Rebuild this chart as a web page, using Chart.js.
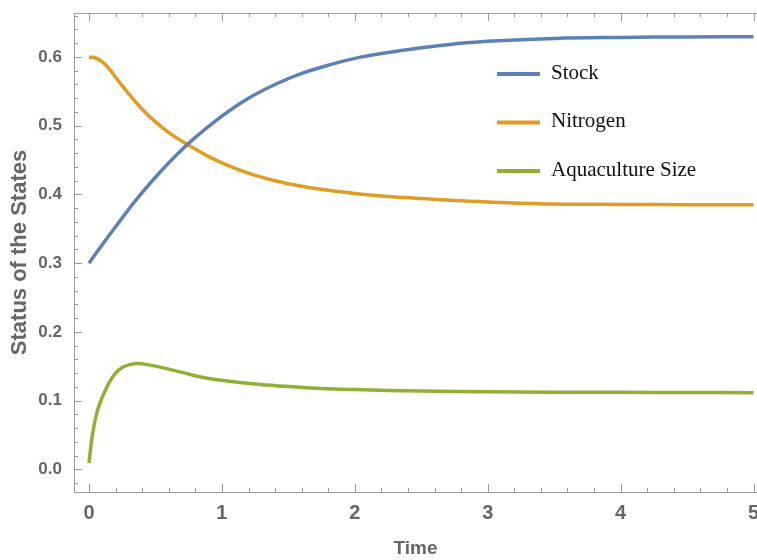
<!DOCTYPE html>
<html lang="en">
<head>
    <meta charset="UTF-8">
    <title>Status of the States</title>
    <script src="https://cdn.jsdelivr.net/npm/chart.js"></script>
    <style>
        html, body { margin: 0; padding: 0; background: #fff; }
        #wrap { width: 757px; height: 560px; }
    </style>
</head>
<body>
    <div id="wrap"><canvas id="statesChart"></canvas></div>
    <script>
        // values
        const stockTime   = [0, 0.1, 0.2, 0.35, 0.5, 0.65, 0.8, 1, 1.2, 1.4, 1.6, 1.8, 2, 2.25, 2.5, 2.75, 3, 3.5, 4, 4.5, 5];
        const stockValues = [0.300, 0.327, 0.353, 0.391, 0.425, 0.456, 0.483, 0.514, 0.540, 0.560, 0.576, 0.588, 0.598, 0.6065, 0.6135, 0.619, 0.623, 0.627, 0.6285, 0.6292, 0.6295];

        const nitrogenTime   = [0, 0.05, 0.1, 0.15, 0.2, 0.3, 0.4, 0.5, 0.6, 0.7, 0.8, 0.9, 1, 1.2, 1.4, 1.6, 1.8, 2, 2.25, 2.5, 2.75, 3, 3.5, 4, 4.5, 5];
        const nitrogenValues = [0.600, 0.5985, 0.593, 0.583, 0.5705, 0.546, 0.524, 0.5055, 0.490, 0.4775, 0.466, 0.455, 0.446, 0.431, 0.420, 0.412, 0.406, 0.4015, 0.397, 0.394, 0.391, 0.389, 0.386, 0.3855, 0.385, 0.385];

        const aquaTime   = [0, 0.02, 0.04, 0.06, 0.08, 0.1, 0.13, 0.16, 0.2, 0.25, 0.3, 0.37, 0.45, 0.55, 0.7, 0.85, 1, 1.25, 1.5, 1.75, 2, 2.5, 3, 3.5, 4, 4.5, 5];
        const aquaValues = [0.009, 0.043, 0.066, 0.083, 0.095, 0.105, 0.118, 0.129, 0.140, 0.148, 0.152, 0.154, 0.152, 0.148, 0.141, 0.134, 0.1295, 0.124, 0.1205, 0.1175, 0.116, 0.114, 0.113, 0.1122, 0.112, 0.1118, 0.1116];

        const seriesNames  = ['Stock', 'Nitrogen', 'Aquaculture Size'];
        const seriesColors = ['#5E81B5', '#E19C24', '#8FB032'];

        const xMin = -0.113, xMax = 5.026;
        const yMin = -0.033, yMax = 0.664;

        const axisColor = '#9a9a9a';
        const textColor = '#666666';

        function toPoints(ts, vs) {
            return ts.map((t, i) => ({ x: t, y: vs[i] }));
        }

        // inward tick marks on the frame, Mathematica style
        const frameTicks = {
            id: 'frameTicks',
            afterDraw(chart) {
                const ctx = chart.ctx;
                const a = chart.chartArea;
                const xs = chart.scales.x, ys = chart.scales.y;
                ctx.save();
                ctx.strokeStyle = axisColor;
                ctx.lineWidth = 1;
                ctx.beginPath();
                // top frame line
                ctx.moveTo(a.left, a.top + 0.5);
                ctx.lineTo(a.right, a.top + 0.5);
                for (let i = 0; i <= 25; i++) {
                    const v = i * 0.2;
                    const px = Math.round(xs.getPixelForValue(v)) + 0.5;
                    const len = (i % 5 === 0) ? 8 : 4;
                    ctx.moveTo(px, a.bottom);
                    ctx.lineTo(px, a.bottom - len);
                    ctx.moveTo(px, a.top);
                    ctx.lineTo(px, a.top + len);
                }
                for (let i = -1; i <= 33; i++) {
                    const v = i * 0.02;
                    if (v < yMin || v > yMax) continue;
                    const py = Math.round(ys.getPixelForValue(v)) + 0.5;
                    const len = (i % 5 === 0) ? 8 : 4;
                    ctx.moveTo(a.left, py);
                    ctx.lineTo(a.left + len, py);
                }
                ctx.stroke();
                ctx.restore();
            }
        };

        // legend drawn inside the plot
        const innerLegend = {
            id: 'innerLegend',
            afterDatasetsDraw(chart) {
                const ctx = chart.ctx;
                ctx.save();
                ctx.font = '21px "Liberation Serif", "Times New Roman", serif';
                ctx.textBaseline = 'middle';
                chart.data.datasets.forEach((ds, i) => {
                    const y = 74 + i * 48.5;
                    ctx.strokeStyle = ds.borderColor;
                    ctx.lineWidth = 4;
                    ctx.beginPath();
                    ctx.moveTo(497, y);
                    ctx.lineTo(540, y);
                    ctx.stroke();
                    ctx.fillStyle = '#111';
                    ctx.fillText(ds.label, 551, y - 1);
                });
                ctx.restore();
            }
        };

        const ctx = document.getElementById('statesChart').getContext('2d');
        new Chart(ctx, {
            type: 'line',
            data: {
                datasets: [
                    { label: seriesNames[0], data: toPoints(stockTime, stockValues), borderColor: seriesColors[0] },
                    { label: seriesNames[1], data: toPoints(nitrogenTime, nitrogenValues), borderColor: seriesColors[1] },
                    { label: seriesNames[2], data: toPoints(aquaTime, aquaValues), borderColor: seriesColors[2] }
                ]
            },
            options: {
                responsive: true,
                maintainAspectRatio: false,
                animation: false,
                layout: { padding: { top: 13, right: 0, left: 0, bottom: 0 } },
                elements: {
                    point: { radius: 0 },
                    line: { borderWidth: 3.5, tension: 0.4, fill: false }
                },
                plugins: {
                    legend: { display: false },
                    tooltip: { enabled: false }
                },
                scales: {
                    x: {
                        type: 'linear',
                        min: xMin,
                        max: xMax,
                        afterFit: s => { s.height = 68; s.paddingLeft = 0; s.paddingRight = 0; },
                        grid: { display: false },
                        border: { display: true, color: axisColor, width: 1 },
                        ticks: {
                            stepSize: 1,
                            includeBounds: false,
                            padding: 1,
                            color: textColor,
                            font: { family: '"Liberation Sans Narrow", "Liberation Sans", Arial', size: 20, weight: 'bold' },
                            callback: v => Number.isInteger(v) ? String(v) : ''
                        },
                        title: {
                            display: true,
                            text: 'Time',
                            color: textColor,
                            padding: { top: 0, bottom: 0 },
                            font: { family: '"Liberation Sans Narrow", "Liberation Sans", Arial', size: 19, weight: 'bold' }
                        }
                    },
                    y: {
                        type: 'linear',
                        min: yMin,
                        max: yMax,
                        afterFit: s => { s.width = 74; s.paddingTop = 0; s.paddingBottom = 0; },
                        grid: { display: false },
                        border: { display: true, color: axisColor, width: 1 },
                        ticks: {
                            stepSize: 0.1,
                            includeBounds: false,
                            padding: 4,
                            color: textColor,
                            font: { family: '"Liberation Sans", Arial', size: 17, weight: 'bold' },
                            callback: v => v.toFixed(1)
                        },
                        title: {
                            display: true,
                            text: 'Status of the States',
                            color: textColor,
                            padding: { top: 7, bottom: 0 },
                            font: { family: '"Liberation Sans", Arial', size: 22, weight: 'bold' }
                        }
                    }
                }
            },
            plugins: [frameTicks, innerLegend]
        });
    </script>
</body>
</html>
